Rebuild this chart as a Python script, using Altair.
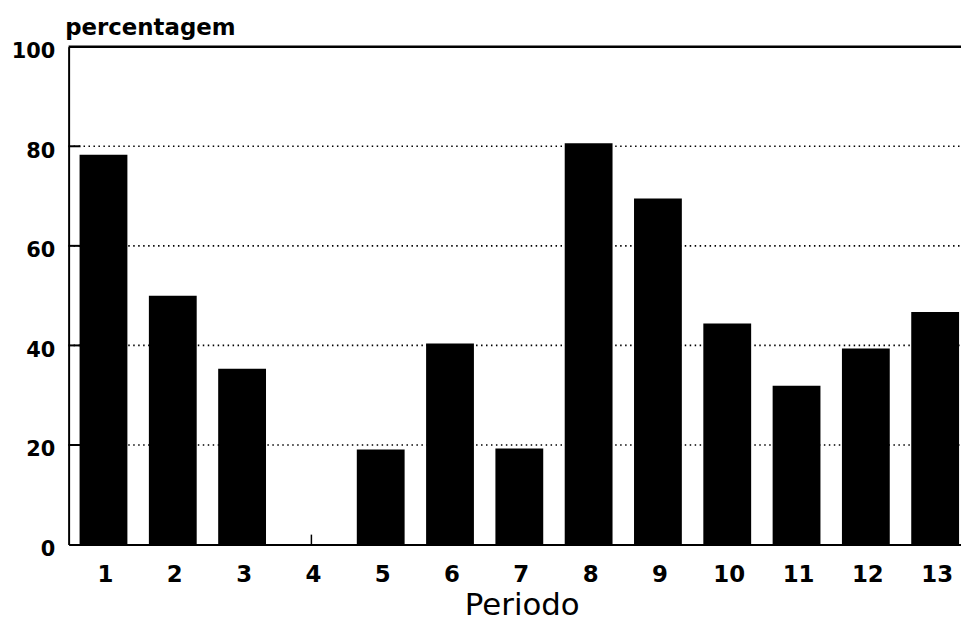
import altair as alt
import pandas as pd

periods = [str(i) for i in range(1, 14)]
values = [78.3, 50.0, 35.3, 0, 19.1, 40.4, 19.3, 80.6, 69.5, 44.4, 31.9, 39.4, 46.7]
grid_values = [20, 40, 60, 80]
y_ticks = [0, 20, 40, 60, 80, 100]
top_value = [100]

df = pd.DataFrame({"Periodo": periods, "pct": values})
grid_df = pd.DataFrame({"v": grid_values})
top_df = pd.DataFrame({"v": top_value})

W, H = 898, 501
FONT = "DejaVu Sans"

xscale = alt.Scale(type="band", domain=periods, paddingInner=0.31, paddingOuter=0.093, align=0.85)
yscale = alt.Scale(domain=[0, 100], nice=False)

grid = alt.Chart(grid_df).mark_rule(
    color="black", strokeDash=[1.5, 3.5], strokeWidth=1.6
).encode(
    y=alt.Y("v:Q", scale=yscale, axis=None),
    x=alt.value(0),
    x2=alt.value(W),
)

ytickmarks = alt.Chart(grid_df).mark_rule(color="black", strokeWidth=2).encode(
    y=alt.Y("v:Q", scale=yscale, axis=None),
    x=alt.value(0),
    x2=alt.value(12),
)

xtickmarks = alt.Chart(df).mark_rule(color="black", strokeWidth=1.5).encode(
    x=alt.X("Periodo:O", scale=xscale, axis=None, sort=periods),
    y=alt.value(H),
    y2=alt.value(H - 10),
)

topline = alt.Chart(top_df).mark_rule(color="black", strokeWidth=2.5).encode(
    y=alt.Y("v:Q", scale=yscale, axis=None),
    x=alt.value(0),
    x2=alt.value(W),
)

bars = alt.Chart(df).mark_bar(color="black").encode(
    x=alt.X(
        "Periodo:O",
        scale=xscale,
        sort=periods,
        axis=alt.Axis(
            title="Periodo",
            labelAngle=0,
            labelFont=FONT,
            labelFontWeight="bold",
            labelFontSize=23,
            labelColor="black",
            labelPadding=19,
            labelOffset=2,
            ticks=False,
            tickSize=0,
            domainColor="black",
            domainWidth=2,
            titleFont=FONT,
            titleFontSize=31,
            titleFontWeight="normal",
            titleColor="black",
            titleX=456,
            titleY=70,
            titleBaseline="alphabetic",
            titleAlign="center",
        ),
    ),
    y=alt.Y(
        "pct:Q",
        scale=yscale,
        axis=alt.Axis(
            title="percentagem",
            values=y_ticks,
            grid=False,
            labelFont=FONT,
            labelFontWeight="bold",
            labelFontSize=21,
            labelColor="black",
            labelPadding=14,
            labelBaseline="middle",
            labelOffset=5,
            ticks=False,
            tickSize=0,
            domainColor="black",
            domainWidth=2,
            titleFont=FONT,
            titleFontSize=23,
            titleFontWeight="bold",
            titleColor="black",
            titleAngle=0,
            titleAlign="left",
            titleBaseline="alphabetic",
            titleX=-4,
            titleY=-12,
        ),
    ),
)

chart = alt.layer(grid, ytickmarks, xtickmarks, topline, bars).resolve_axis(
    x="independent", y="independent"
).properties(
    width=W,
    height=H,
    padding={"left": 61, "top": 37, "right": 0, "bottom": 79},
    autosize=alt.AutoSizeParams(type="none"),
    background="white",
).configure_view(stroke=None)

chart.save("out.html", embed_options={"renderer": "svg", "actions": False})
